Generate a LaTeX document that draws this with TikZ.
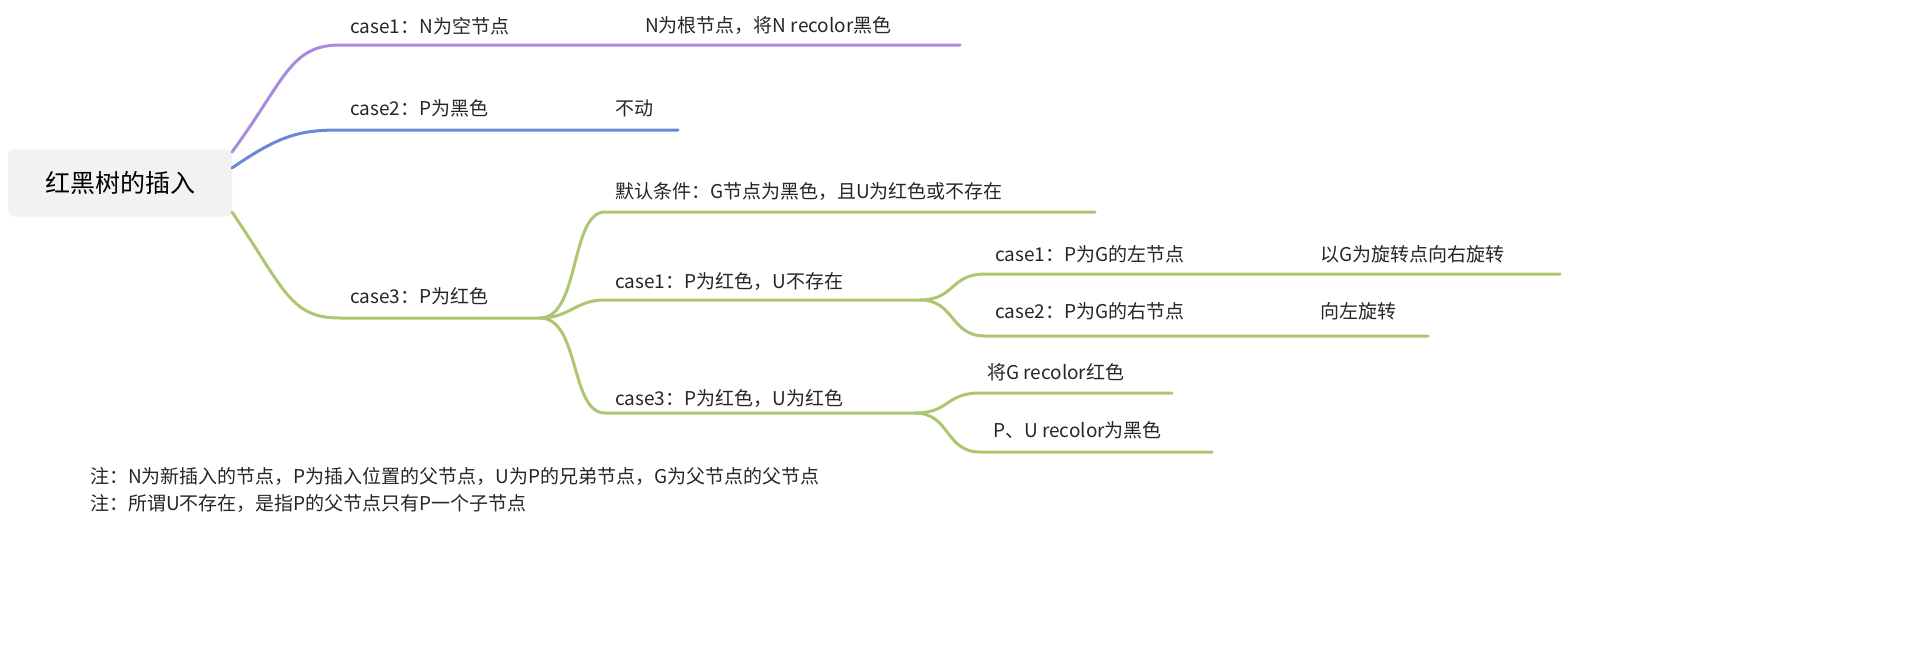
\documentclass[tikz,border=0pt]{standalone}
\usepackage{fontspec}
\setmainfont{Noto Sans CJK SC}
\begin{document}
\begin{tikzpicture}[x=1pt,y=-1pt,
  lbl/.style={anchor=west,inner sep=0pt,font=\fontsize{19}{22}\selectfont,text=black!85},
  br/.style={line width=3pt,line cap=round}]
\definecolor{cpur}{HTML}{A98BDD}
\definecolor{cblu}{HTML}{6C86D8}
\definecolor{cgrn}{HTML}{ADC771}
\useasboundingbox (0,0) rectangle (1930,654);
\node[fill=black!5,rounded corners=6pt,minimum width=224pt,minimum height=67pt,inner sep=0pt,font=\fontsize{25}{28}\selectfont] (root) at (120,183) {红黑树的插入};
% purple
\coordinate (a1) at (340,45); \coordinate (a2) at (960,45);
\draw[br,cpur] (232,152) .. controls (285,80) and (290,45) .. (a1) -- (a2);
\node[lbl] (t1) at (350,26) {case1：N为空节点};
\node[lbl] (t1b) at (645,26) {N为根节点，将N recolor黑色};
% blue
\coordinate (b1) at (340,130); \coordinate (b2) at (678,130);
\draw[br,cblu] (232,168) .. controls (280,135) and (300,130) .. (b1) -- (b2);
\node[lbl] (t2) at (350,108) {case2：P为黑色};
\node[lbl] (t2b) at (615,108) {不动};
% green
\coordinate (c1) at (340,318); \coordinate (c2) at (540,318);
\draw[br,cgrn] (232,212) .. controls (285,290) and (290,318) .. (c1) -- (c2);
\node[lbl] (t3) at (350,296) {case3：P为红色};
\coordinate (d1) at (605,212); \coordinate (d2) at (1095,212);
\draw[br,cgrn] (c2) .. controls (580,318) and (570,212) .. (d1) -- (d2);
\node[lbl] (t4) at (615,192) {默认条件：G节点为黑色，且U为红色或不存在};
\coordinate (e1) at (605,300); \coordinate (e2) at (920,300);
\draw[br,cgrn] (c2) .. controls (570,318) and (575,300) .. (e1) -- (e2);
\node[lbl] (t5) at (615,282) {case1：P为红色，U不存在};
\coordinate (f1) at (605,413); \coordinate (f2) at (915,413);
\draw[br,cgrn] (c2) .. controls (580,318) and (570,413) .. (f1) -- (f2);
\node[lbl] (t6) at (615,399) {case3：P为红色，U为红色};
\coordinate (g1) at (985,274); \coordinate (g2) at (1560,274);
\draw[br,cgrn] (e2) .. controls (955,300) and (950,274) .. (g1) -- (g2);
\node[lbl] (t7) at (995,254) {case1：P为G的左节点};
\node[lbl] (t7b) at (1320,254) {以G为旋转点向右旋转};
\coordinate (h1) at (985,336); \coordinate (h2) at (1428,336);
\draw[br,cgrn] (e2) .. controls (955,300) and (950,336) .. (h1) -- (h2);
\node[lbl] (t8) at (995,311) {case2：P为G的右节点};
\node[lbl] (t8b) at (1320,311) {向左旋转};
\coordinate (i1) at (980,393); \coordinate (i2) at (1172,393);
\draw[br,cgrn] (f2) .. controls (950,413) and (945,393) .. (i1) -- (i2);
\node[lbl] (t9) at (987,372) {将G recolor红色};
\coordinate (j1) at (980,452); \coordinate (j2) at (1212,452);
\draw[br,cgrn] (f2) .. controls (950,413) and (945,452) .. (j1) -- (j2);
\node[lbl] (t10) at (993,430) {P、U recolor为黑色};
\node[lbl] (n1) at (90,476) {注：N为新插入的节点，P为插入位置的父节点，U为P的兄弟节点，G为父节点的父节点};
\node[lbl] (n2) at (90,503) {注：所谓U不存在，是指P的父节点只有P一个子节点};
\end{tikzpicture}
\end{document}
